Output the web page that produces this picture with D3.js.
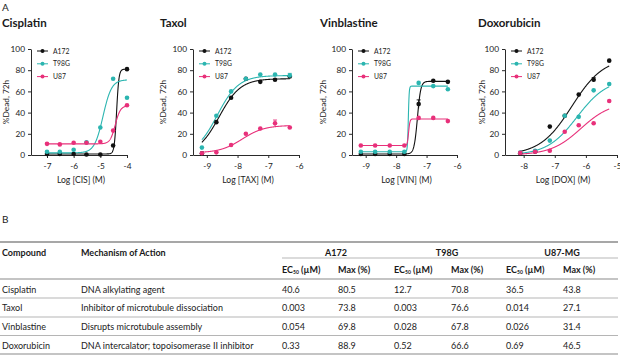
<!DOCTYPE html>
<html><head><meta charset="utf-8">
<script src="https://cdn.jsdelivr.net/npm/d3@7"></script>
<style>
body{margin:0;background:#fff;}
svg{display:block;font-family:Lato, "Open Sans", sans-serif;}
</style></head>
<body><svg id="c" width="620" height="357"></svg>
<script>
// ---------- DATA ----------
const cellLines = ["A172", "T98G", "U87"];
const lineColors = ["#111111", "#2bb5b0", "#e8307a"];
const yTicks = [0, 20, 40, 60, 80, 100];

// Cisplatin
const cisDoses = [-7, -6.52, -6, -5.52, -5, -4.52, -4];
const cisA172 = [1, 1, 1, 0.5, 0.5, 9, 81];
const cisT98G = [3, 3, 5, 12, 26, 72, 54];
const cisU87  = [10.5, 10, 11.5, 11.5, 12.5, 23, 47];
const cisTicks = [-7, -6, -5, -4];
// fit: bottom, top, logEC50, hill
const cisFitA172 = [1, 81, -4.39, 10];
const cisFitT98G = [2, 71, -4.9, 2.7];
const cisFitU87  = [10.5, 46.5, -4.44, 4.5];

// Taxol
const taxDoses = [-9.16, -8.69, -8.21, -7.73, -7.26, -6.78, -6.3];
const taxA172 = [1.5, 31, 54, 72, 69, 71, 74];
const taxT98G = [7, 37, 60, 72, 76, 76, 75];
const taxU87  = [1.6, 2.5, 9.5, 20, 25, 30, 26];
const taxTicks = [-9, -8, -7, -6];
const taxFitA172 = [0, 72, -8.6, 1.25];
const taxFitT98G = [0, 75, -8.66, 1.25];
const taxFitU87  = [2, 28, -7.85, 1.2];

// Vinblastine
const vinDoses = [-9.16, -8.69, -8.21, -7.73, -7.26, -6.78, -6.3];
const vinA172 = [1, 1, 1, 1, 48, 70, 69];
const vinT98G = [3, 3, 3, 3, 68, 65, 62];
const vinU87  = [9, 9, 9, 9, 35, 35, 32];
const vinTicks = [-9, -8, -7, -6];
const vinFitA172 = [1, 69.5, -7.3, 8];
const vinFitT98G = [3, 65, -7.6, 30];
const vinFitU87  = [9, 34, -7.59, 20];

// Doxorubicin
const doxDoses = [-8.11, -7.63, -7.16, -6.68, -6.23, -5.75, -5.25];
const doxA172 = [1.6, 3.2, 26.8, 37, 57, 71, 89];
const doxT98G = [2.2, 4, 13.6, 37, 36, 61, 67];
const doxU87  = [2, 3, 4, 22, 28, 30, 51];
const doxTicks = [-8, -7, -6, -5];
const doxFitA172 = [0, 92, -6.45, 0.85];
const doxFitT98G = [0, 72, -6.28, 0.9];
const doxFitU87  = [0, 50, -6.16, 0.9];

// error bars: [panel, line, point index, sem]
const errorBars = [[1, 2, 5, 3], [1, 1, 6, 2], [2, 0, 4, 4], [3, 0, 5, 2]];

// table
const compounds = ["Cisplatin", "Taxol", "Vinblastine", "Doxorubicin"];
const mechanisms = ["DNA alkylating agent", "Inhibitor of microtubule dissociation",
  "Disrupts microtubule assembly", "DNA intercalator; topoisomerase II inhibitor"];
const groupHeaders = ["A172", "T98G", "U87-MG"];
const ec50A172 = ["40.6", "0.003", "0.054", "0.33"];
const maxA172  = ["80.5", "73.8", "69.8", "88.9"];
const ec50T98G = ["12.7", "0.003", "0.028", "0.52"];
const maxT98G  = ["70.8", "76.6", "67.8", "66.6"];
const ec50U87  = ["36.5", "0.014", "0.026", "0.69"];
const maxU87   = ["43.8", "27.1", "31.4", "46.5"];

// ---------- DRAW ----------
const svg = d3.select("#c");
const txt = "#222";

const panels = [
  {title:"Cisplatin", xlabel:"Log [CIS] (M)", doses:cisDoses, vals:[cisA172,cisT98G,cisU87], fits:[cisFitA172,cisFitT98G,cisFitU87], ticks:cisTicks, domain:[-7.6,-4], range:[31,127], tx:2, ylx:6},
  {title:"Taxol", xlabel:"Log [TAX] (M)", doses:taxDoses, vals:[taxA172,taxT98G,taxU87], fits:[taxFitA172,taxFitT98G,taxFitU87], ticks:taxTicks, domain:[-9.45,-6], range:[193,299], tx:160, ylx:163},
  {title:"Vinblastine", xlabel:"Log [VIN] (M)", doses:vinDoses, vals:[vinA172,vinT98G,vinU87], fits:[vinFitA172,vinFitT98G,vinFitU87], ticks:vinTicks, domain:[-9.45,-6], range:[352,457], tx:320, ylx:323},
  {title:"Doxorubicin", xlabel:"Log [DOX] (M)", doses:doxDoses, vals:[doxA172,doxT98G,doxU87], fits:[doxFitA172,doxFitT98G,doxFitU87], ticks:doxTicks, domain:[-8.6,-5], range:[505,617], tx:478, ylx:482}
];

svg.append("text").attr("x",2).attr("y",11).attr("font-size",10).attr("fill",txt).text("A");
svg.append("text").attr("x",2).attr("y",223).attr("font-size",10).attr("fill",txt).text("B");

const y = d3.scaleLinear().domain([0,100]).range([155,49]);

panels.forEach((p, pi) => {
  const g = svg.append("g");
  const x = d3.scaleLinear().domain(p.domain).range(p.range);
  g.append("text").attr("x",p.tx).attr("y",27).attr("font-size",11.5).attr("font-weight",700).attr("fill","#1a1a1a").text(p.title);

  const xa = g.append("g").attr("transform",`translate(0,${y(0)})`)
    .call(d3.axisBottom(x).tickValues(p.ticks).tickSize(3).tickSizeOuter(0).tickFormat(d=>String(d)));
  const ya = g.append("g").attr("transform",`translate(${p.range[0]},0)`)
    .call(d3.axisLeft(y).tickValues(yTicks).tickSize(3).tickSizeOuter(0));
  [xa, ya].forEach(a => {
    a.selectAll("path,line").attr("stroke","#2a2a2a").attr("stroke-width",1);
    a.selectAll("text").attr("fill",txt).attr("font-size",8.3).attr("font-family","Lato, sans-serif");
  });
  xa.selectAll("text").attr("dy","0.95em");
  g.append("text").attr("x",(p.range[0]+p.range[1])/2+2).attr("y",183).attr("text-anchor","middle")
    .attr("font-size",8.6).attr("fill",txt).text(p.xlabel);
  g.append("text").attr("transform",`translate(${p.ylx+3},102) rotate(-90)`).attr("text-anchor","middle")
    .attr("font-size",8.3).attr("fill",txt).text("%Dead, 72h");

  // curves
  const lo = d3.min(p.doses), hi = d3.max(p.doses);
  const xs = d3.range(0, 401).map(i => lo + (hi-lo)*i/400);
  p.fits.forEach((f, li) => {
    const [b, t, ec, h] = f;
    const pts = xs.map(v => [v, b + (t-b)/(1+Math.pow(10,(ec - v)*h))]);
    g.append("path").datum(pts).attr("fill","none").attr("stroke",lineColors[li]).attr("stroke-width",1.1)
      .attr("d", d3.line().x(d=>x(d[0])).y(d=>y(d[1])));
  });
  // error bars
  errorBars.filter(e => e[0]===pi).forEach(e => {
    const [, li, idx, sem] = e;
    const cx = x(p.doses[idx]), v = p.vals[li][idx];
    g.append("line").attr("x1",cx).attr("x2",cx).attr("y1",y(v-sem)).attr("y2",y(v+sem)).attr("stroke",lineColors[li]).attr("stroke-width",0.9);
    g.append("line").attr("x1",cx-2).attr("x2",cx+2).attr("y1",y(v+sem)).attr("y2",y(v+sem)).attr("stroke",lineColors[li]).attr("stroke-width",0.9);
  });
  // points
  p.vals.forEach((vals, li) => {
    g.selectAll(null).data(vals).enter().append("circle")
      .attr("cx",(d,i)=>x(p.doses[i])).attr("cy",d=>y(d)).attr("r",2.3).attr("fill",lineColors[li]);
  });
  // legend
  cellLines.forEach((c, li) => {
    const ly = 51 + li*12.8, lx = p.range[0] + 6;
    g.append("line").attr("x1",lx).attr("x2",lx+11).attr("y1",ly).attr("y2",ly).attr("stroke",lineColors[li]).attr("stroke-width",1);
    g.append("circle").attr("cx",lx+5.5).attr("cy",ly).attr("r",2).attr("fill",lineColors[li]);
    g.append("text").attr("x",lx+16).attr("y",ly+2.5).attr("font-size",6.8).attr("fill",txt).text(c);
  });
});

// ---------- TABLE ----------
const t = svg.append("g").attr("font-size",9).attr("fill",txt);
const colX = [2, 81, 282, 338, 394, 451, 506, 563];
const ruleY = [298, 317, 335.5, 354];
t.append("line").attr("x1",0).attr("x2",618).attr("y1",242).attr("y2",242).attr("stroke","#8a8a8a").attr("stroke-width",1.6);
t.append("line").attr("x1",282).attr("x2",618).attr("y1",258).attr("y2",258).attr("stroke","#999").attr("stroke-width",0.7);
t.append("line").attr("x1",0).attr("x2",618).attr("y1",279).attr("y2",279).attr("stroke","#8a8a8a").attr("stroke-width",1.2);
ruleY.forEach((ry, i) => t.append("line").attr("x1",0).attr("x2",618).attr("y1",ry).attr("y2",ry)
  .attr("stroke", i===3 ? "#8a8a8a" : "#b5b5b5").attr("stroke-width", i===3 ? 1.2 : 1));

const hdr = (x, yy, s, anchor) => t.append("text").attr("x",x).attr("y",yy).attr("font-weight",700)
  .attr("text-anchor",anchor||"start").attr("fill","#1a1a1a").text(s);
hdr(colX[0], 255.5, "Compound");
hdr(colX[1], 255.5, "Mechanism of Action");
groupHeaders.forEach((gname, i) => hdr([336, 447, 562][i], 255.5, gname, "middle"));
[0,1,2].forEach(i => {
  const e = t.append("text").attr("x",colX[2+i*2]).attr("y",272.5).attr("font-weight",700).attr("fill","#1a1a1a");
  e.append("tspan").text("EC");
  e.append("tspan").attr("font-size",5).attr("dy",1.5).text("50");
  e.append("tspan").attr("dy",-1.5).text(" (µM)");
  hdr(colX[3+i*2], 272.5, "Max (%)");
});
const cols = [compounds, mechanisms, ec50A172, maxA172, ec50T98G, maxT98G, ec50U87, maxU87];
compounds.forEach((c, r) => {
  const ry = 292.5 + r*18.8;
  cols.forEach((col, ci) => t.append("text").attr("x",colX[ci]).attr("y",ry).text(col[r]));
});
</script></body></html>
